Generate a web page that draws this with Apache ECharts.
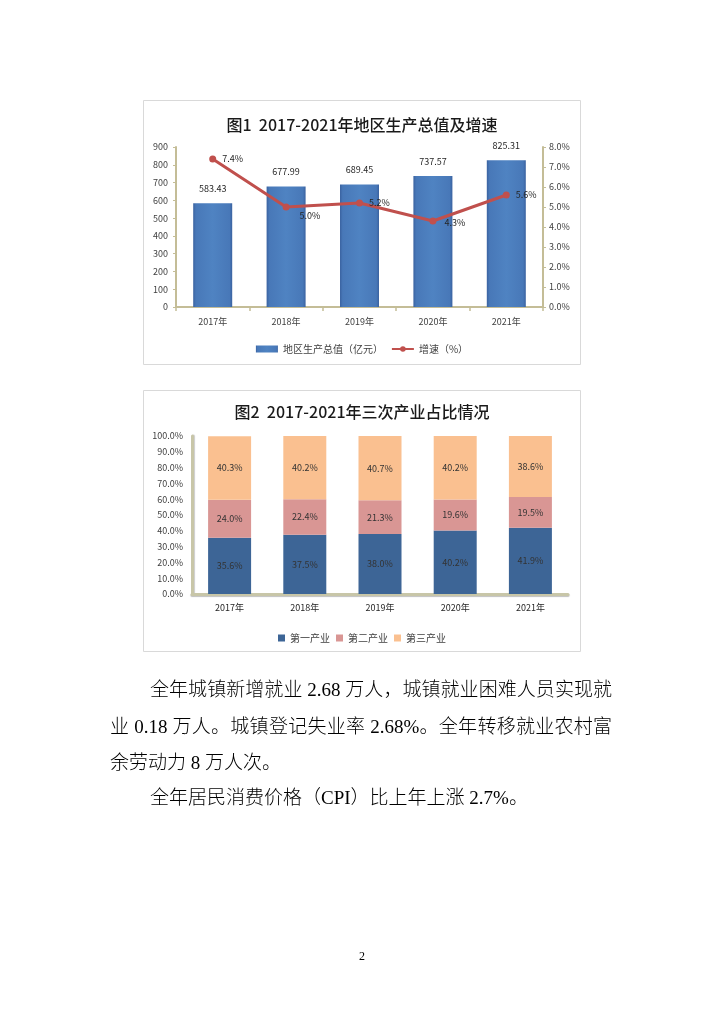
<!DOCTYPE html>
<html>
<head>
<meta charset="utf-8">
<script src="https://cdn.jsdelivr.net/npm/echarts@6/dist/echarts.min.js"></script>
<style>
  html, body { margin:0; padding:0; background:#fff; }
  #page { position:relative; width:724px; height:1024px; overflow:hidden; }
  #chart { position:absolute; left:0; top:0; width:724px; height:1024px; }
  .ln { position:absolute; left:110px; width:502px; font-family:"Liberation Serif","Noto Sans CJK SC",serif; font-weight:300; font-size:19px; color:#000; white-space:nowrap; line-height:24px; }
  .j { text-align:justify; text-align-last:justify; white-space:normal; }
  .pg { position:absolute; left:0; width:724px; text-align:center; top:949px; font-family:"Liberation Serif",serif; font-size:12px; color:#000; }
</style>
</head>
<body>
<div id="page">
  <div id="chart"></div>
  <div class="ln j" style="top:678px; left:150px; width:462px;">全年城镇新增就业 2.68 万人，城镇就业困难人员实现就</div>
  <div class="ln j" style="top:715px;">业 0.18 万人。城镇登记失业率 2.68%。全年转移就业农村富</div>
  <div class="ln" style="top:751px;">余劳动力 8 万人次。</div>
  <div class="ln" style="top:786px; left:150px;">全年居民消费价格（CPI）比上年上涨 2.7%。</div>
  <div class="pg">2</div>
</div>
<script>
const years = ['2017年', '2018年', '2019年', '2020年', '2021年'];
const gdpValues = [583.43, 677.99, 689.45, 737.57, 825.31];
const growthRates = [7.4, 5.0, 5.2, 4.3, 5.6];
const primaryShare = [35.6, 37.5, 38.0, 40.2, 41.9];
const secondaryShare = [24.0, 22.4, 21.3, 19.6, 19.5];
const tertiaryShare = [40.3, 40.2, 40.7, 40.2, 38.6];
const gdpTicks = { min: 0, max: 900, interval: 100 };
const rateTicks = { min: 0, max: 8, interval: 1 };
const shareTicks = { min: 0, max: 100, interval: 10 };

const FONT = '"Noto Sans CJK SC","Noto Sans",sans-serif';
const AX = '#c4bd97';
const TXT = '#404040';

const chart = echarts.init(document.getElementById('chart'), null, { renderer: 'canvas' });

const barGrad = new echarts.graphic.LinearGradient(0, 0, 1, 0, [
  { offset: 0, color: '#3a62a0' },
  { offset: 0.07, color: '#4878b8' },
  { offset: 0.5, color: '#4f83c2' },
  { offset: 0.93, color: '#4878b8' },
  { offset: 1, color: '#3a62a0' }
]);

const option = {
  animation: false,
  backgroundColor: '#fff',
  textStyle: { fontFamily: FONT },
  graphic: [
    { type: 'rect', shape: { x: 143.5, y: 100.5, width: 437, height: 264 }, style: { fill: 'none', stroke: '#d9d9d9', lineWidth: 1 }, z: -1 },
    { type: 'rect', shape: { x: 143.5, y: 390.5, width: 437, height: 261 }, style: { fill: 'none', stroke: '#d9d9d9', lineWidth: 1 }, z: -1 }
  ],
  title: [
    { text: '图1  2017-2021年地区生产总值及增速', left: 'center', top: 112, textStyle: { fontFamily: FONT, fontSize: 16, fontWeight: 500, color: '#1a1a1a' } },
    { text: '图2  2017-2021年三次产业占比情况', left: 'center', top: 399, textStyle: { fontFamily: FONT, fontSize: 16, fontWeight: 500, color: '#1a1a1a' } }
  ],
  legend: [
    {
      top: 339, left: 'center', itemGap: 8, itemWidth: 22, itemHeight: 7,
      textStyle: { fontFamily: FONT, fontSize: 10, color: TXT },
      data: [
        { name: '地区生产总值（亿元）', icon: 'rect' },
        { name: '增速（%）' }
      ]
    },
    {
      top: 628, left: 'center', itemGap: 6, itemWidth: 7, itemHeight: 7,
      textStyle: { fontFamily: FONT, fontSize: 10, color: TXT },
      data: [
        { name: '第一产业', icon: 'rect' },
        { name: '第二产业', icon: 'rect' },
        { name: '第三产业', icon: 'rect' }
      ]
    }
  ],
  grid: [
    { left: 176, top: 147, width: 367, height: 160 },
    { left: 192, top: 436, width: 376, height: 158 }
  ],
  xAxis: [
    {
      gridIndex: 0, type: 'category', data: years,
      axisLine: { lineStyle: { color: AX, width: 2 } },
      axisTick: { show: true, alignWithLabel: false, lineStyle: { color: AX, width: 1.5 }, length: 4 },
      axisLabel: { fontSize: 9, color: TXT, margin: 10, fontFamily: FONT }
    },
    {
      gridIndex: 1, type: 'category', data: years,
      axisLine: { lineStyle: { color: '#c8c6a8', width: 3, shadowColor: 'rgba(0,0,0,0.25)', shadowOffsetY: 1, shadowBlur: 1 } },
      axisTick: { show: false },
      axisLabel: { fontSize: 9, color: '#262626', margin: 9, fontFamily: FONT }
    }
  ],
  yAxis: [
    {
      gridIndex: 0, type: 'value', min: gdpTicks.min, max: gdpTicks.max, interval: gdpTicks.interval,
      axisLine: { show: true, lineStyle: { color: AX, width: 2 } },
      axisTick: { show: true, lineStyle: { color: AX }, length: 3 },
      splitLine: { show: false },
      axisLabel: { fontSize: 9, color: TXT, margin: 8, fontFamily: FONT }
    },
    {
      gridIndex: 0, type: 'value', position: 'right', min: rateTicks.min, max: rateTicks.max, interval: rateTicks.interval,
      axisLine: { show: true, lineStyle: { color: AX, width: 2 } },
      axisTick: { show: true, lineStyle: { color: AX }, length: 3 },
      splitLine: { show: false },
      axisLabel: { fontSize: 9, color: TXT, margin: 6, fontFamily: FONT, formatter: v => v.toFixed(1) + '%' }
    },
    {
      gridIndex: 1, type: 'value', min: shareTicks.min, max: shareTicks.max, interval: shareTicks.interval,
      axisLine: { show: true, lineStyle: { color: '#c8c6a8', width: 3, shadowColor: 'rgba(0,0,0,0.2)', shadowOffsetX: 1, shadowBlur: 1 } },
      axisTick: { show: false },
      splitLine: { show: false },
      axisLabel: { fontSize: 9, color: TXT, margin: 9, fontFamily: FONT, formatter: v => v.toFixed(1) + '%' }
    }
  ],
  series: [
    {
      name: '地区生产总值（亿元）', type: 'bar', xAxisIndex: 0, yAxisIndex: 0,
      data: gdpValues, barWidth: 39,
      itemStyle: { color: barGrad },
      label: { show: true, position: 'top', distance: 10, fontSize: 9, color: '#262626', fontFamily: FONT, formatter: p => p.value.toFixed(2) }
    },
    {
      name: '增速（%）', type: 'line', xAxisIndex: 0, yAxisIndex: 1,
      data: growthRates.map((v, i) => ({
        value: v,
        label: { offset: i === 1 ? [4, 9] : (i === 3 ? [2, 2] : [0, 0]) }
      })),
      symbol: 'circle', symbolSize: 7,
      lineStyle: { color: '#c0504d', width: 3 },
      itemStyle: { color: '#c0504d' },
      label: { show: true, position: 'right', distance: 6, fontSize: 9, color: '#262626', fontFamily: FONT, formatter: p => p.value.toFixed(1) + '%' }
    },
    {
      name: '第一产业', type: 'bar', stack: 's', xAxisIndex: 1, yAxisIndex: 2,
      data: primaryShare, barWidth: 43,
      itemStyle: { color: '#3d6596' },
      label: { show: true, position: 'inside', fontSize: 9, color: '#333', fontFamily: FONT, formatter: p => p.value.toFixed(1) + '%' }
    },
    {
      name: '第二产业', type: 'bar', stack: 's', xAxisIndex: 1, yAxisIndex: 2,
      data: secondaryShare, barWidth: 43,
      itemStyle: { color: '#d99694' },
      label: { show: true, position: 'inside', fontSize: 9, color: '#333', fontFamily: FONT, formatter: p => p.value.toFixed(1) + '%' }
    },
    {
      name: '第三产业', type: 'bar', stack: 's', xAxisIndex: 1, yAxisIndex: 2,
      data: tertiaryShare, barWidth: 43,
      itemStyle: { color: '#fac090' },
      label: { show: true, position: 'inside', fontSize: 9, color: '#333', fontFamily: FONT, formatter: p => p.value.toFixed(1) + '%' }
    }
  ]
};
chart.setOption(option);
</script>
</body>
</html>
